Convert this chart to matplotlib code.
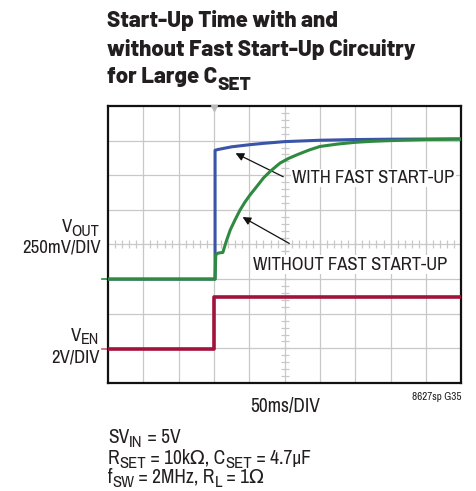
import numpy as np
import matplotlib
matplotlib.use('Agg')
import matplotlib.pyplot as plt
from matplotlib import font_manager
from matplotlib.transforms import blended_transform_factory, offset_copy

# scope traces, x in time divisions, y in screen divisions (0..8)
t_fast = [0.0, 3.03, 3.03, 3.1, 3.5, 4.0, 4.4, 5.0, 6.0, 7.0, 8.0, 10.0]
v_fast = [3.0, 3.0, 6.72, 6.74, 6.82, 6.88, 6.92, 6.97, 7.01, 7.03, 7.04, 7.05]

t_slow = [0.0, 3.03, 3.05, 3.11, 3.25, 3.35, 3.46, 3.6, 3.74, 3.88, 4.02, 4.2,
          4.4, 4.6, 4.87, 5.1, 5.35, 5.7, 6.0, 6.5, 7.0, 7.5, 8.0, 9.0, 10.0]
v_slow = [3.0, 3.0, 3.7, 3.75, 3.77, 4.1, 4.42, 4.72, 5.0, 5.23, 5.43, 5.66,
          5.92, 6.12, 6.35, 6.48, 6.59, 6.73, 6.83, 6.9, 6.95, 6.98, 7.0, 7.03, 7.04]

t_en = [0.0, 3.0, 3.0, 10.0]
v_en = [0.97, 0.97, 2.47, 2.47]


def pick(cands):
    names = {f.name for f in font_manager.fontManager.ttflist}
    for c in cands:
        if c in names:
            return c
    return 'DejaVu Sans'


body = pick(['Archivo Narrow', 'Barlow Semi Condensed', 'Liberation Sans'])
head = pick(['Barlow', 'Barlow Semi Condensed', 'Liberation Sans'])
plt.rcParams['font.family'] = [body, 'DejaVu Sans']

txt = '#231f20'
blue = '#3a55a8'
green = '#2f8a3f'
red = '#a3123c'

fig = plt.figure(figsize=(4.76, 4.91), dpi=100)
renderer = fig.canvas.get_renderer()


def rich(x, y, parts, size, ha='left', sub_scale=0.86, drop=0.2, **kw):
    """Draw text pieces on one baseline; pieces flagged True are subscripts."""
    if ha == 'right':
        parts = parts[::-1]
    dx = 0
    for s, sub in parts:
        t = fig.text(x, y, s, fontsize=size * sub_scale if sub else size,
                     va='baseline', ha=ha, color=txt, **kw)
        t.set_transform(offset_copy(fig.transFigure, fig=fig, x=dx,
                                    y=-size * drop if sub else 0, units='points'))
        w = t.get_window_extent(renderer).width * 72 / fig.dpi
        dx += -w if ha == 'right' else w


ax = fig.add_axes([0.227, 0.22, 0.742, 0.5642])
ax.set_xlim(0, 10)
ax.set_ylim(0, 8)
ax.set_xticks([])
ax.set_yticks([])
for s in ax.spines.values():
    s.set_linewidth(1.6)
    s.set_color('#111111')

# graticule
for x in range(1, 10):
    ax.axvline(x, color='#c8c8c8', lw=0.9, zorder=0)
for y in range(1, 8):
    ax.axhline(y, color='#c8c8c8', lw=0.9, zorder=0)
minor = np.arange(0.2, 10, 0.2)
ax.plot(minor, np.full_like(minor, 4), '|', color='#c8c8c8', ms=6, mew=0.9, zorder=0)
minor_y = np.arange(0.2, 8, 0.2)
ax.plot(np.full_like(minor_y, 5), minor_y, '_', color='#c8c8c8', ms=6, mew=0.9, zorder=0)

# traces
ax.plot(t_en, v_en, color=red, lw=2.6, zorder=3)
ax.plot(t_fast, v_fast, color=blue, lw=2.2, zorder=3)
ax.plot(t_slow, v_slow, color=green, lw=2.2, zorder=4)

# trigger marker and channel ground markers
ax.plot([3.0], [7.94], marker='v', color='#bbbbbb', ms=5, clip_on=False, zorder=5)
tr = blended_transform_factory(ax.transAxes, ax.transData)
ax.plot([-0.017, 0], [3.0, 3.0], color=green, lw=1.2, transform=tr, clip_on=False)
ax.plot([-0.017, 0], [0.97, 0.97], color='#d0607a', lw=1.2, transform=tr, clip_on=False)

# annotations
arrow = dict(arrowstyle='-|>', color='#111111', lw=0.9, mutation_scale=12)
ax.annotate('', xy=(3.54, 6.67), xytext=(5.03, 5.92), arrowprops=arrow)
ax.annotate('', xy=(3.74, 4.83), xytext=(5.2, 3.99), arrowprops=arrow)
ax.text(5.21, 5.78, 'WITH FAST START-UP', fontsize=13.4, color=txt, va='baseline',
        bbox=dict(fc='white', ec='none', pad=1), zorder=6)
ax.text(4.11, 3.27, 'WITHOUT FAST START-UP', fontsize=13.4, color=txt, va='baseline',
        bbox=dict(fc='white', ec='none', pad=1), zorder=6)

# title
title_kw = dict(fontweight=800, family=head)
rich(0.225, 0.945, [('Start-Up Time with and', False)], 16, **title_kw)
rich(0.225, 0.886, [('without Fast Start-Up Circuitry', False)], 16, **title_kw)
rich(0.225, 0.831, [('for Large C', False), ('SET', True)], 16, drop=0.32, **title_kw)

# channel labels
rich(0.209, 0.5275, [('V', False), ('OUT', True)], 13.5, ha='right')
rich(0.211, 0.4853, [('250mV/DIV', False)], 13.5, ha='right')
rich(0.209, 0.3061, [('V', False), ('EN', True)], 13.5, ha='right')
rich(0.210, 0.2613, [('2V/DIV', False)], 13.5, ha='right')

fig.text(0.599, 0.1609, '50ms/DIV', fontsize=14, color=txt, ha='center', va='baseline')
fig.text(0.969, 0.1853, '8627sp G35', fontsize=8, color=txt, ha='right', va='baseline')

# test conditions
rich(0.227, 0.0978, [('SV', False), ('IN', True), (' = 5V', False)], 14)
rich(0.227, 0.0550, [('R', False), ('SET', True), (' = 10k\u03a9, C', False), ('SET', True),
                     (' = 4.7\u03bcF', False)], 14)
rich(0.227, 0.0163, [('f', False), ('SW', True), (' = 2MHz, R', False), ('L', True),
                     (' = 1\u03a9', False)], 14)

fig.savefig('out.png', dpi=100)
